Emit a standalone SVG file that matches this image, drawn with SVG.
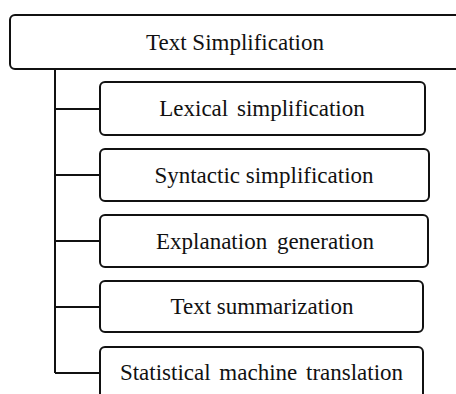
<svg xmlns="http://www.w3.org/2000/svg" width="456" height="394" viewBox="0 0 456 394">
<style>
.box{fill:#fff;stroke:#111;stroke-width:2;}
.lbl{font-family:"Liberation Serif","Times New Roman",serif;font-size:23px;fill:#111;text-anchor:middle;}
.conn{stroke:#111;stroke-width:2;fill:none;}
</style>
<rect width="456" height="394" fill="#fff"/>
<g id="connectors">
<path class="conn" d="M55 69 V373 M55 109 H100 M55 175 H100 M55 241 H100 M55 307 H100 M55 373 H100"/>
</g>
<g id="root">
<rect class="box" x="10" y="15" width="454" height="54" rx="5"/>
<text class="lbl" x="235" y="50">Text Simplification</text>
</g>
<g id="lexical">
<rect class="box" x="100" y="82" width="325" height="53" rx="5"/>
<text class="lbl" x="262" y="116" word-spacing="3">Lexical simplification</text>
</g>
<g id="syntactic">
<rect class="box" x="100" y="149" width="329" height="52" rx="5"/>
<text class="lbl" x="264" y="183">Syntactic simplification</text>
</g>
<g id="explanation">
<rect class="box" x="100" y="215" width="328" height="52" rx="5"/>
<text class="lbl" x="265" y="249" word-spacing="4">Explanation generation</text>
</g>
<g id="summarization">
<rect class="box" x="100" y="281" width="323" height="51" rx="5"/>
<text class="lbl" x="262" y="314">Text summarization</text>
</g>
<g id="smt">
<rect class="box" x="100" y="347" width="323" height="54" rx="5"/>
<text class="lbl" x="261.5" y="380" word-spacing="3">Statistical machine translation</text>
</g>
</svg>
